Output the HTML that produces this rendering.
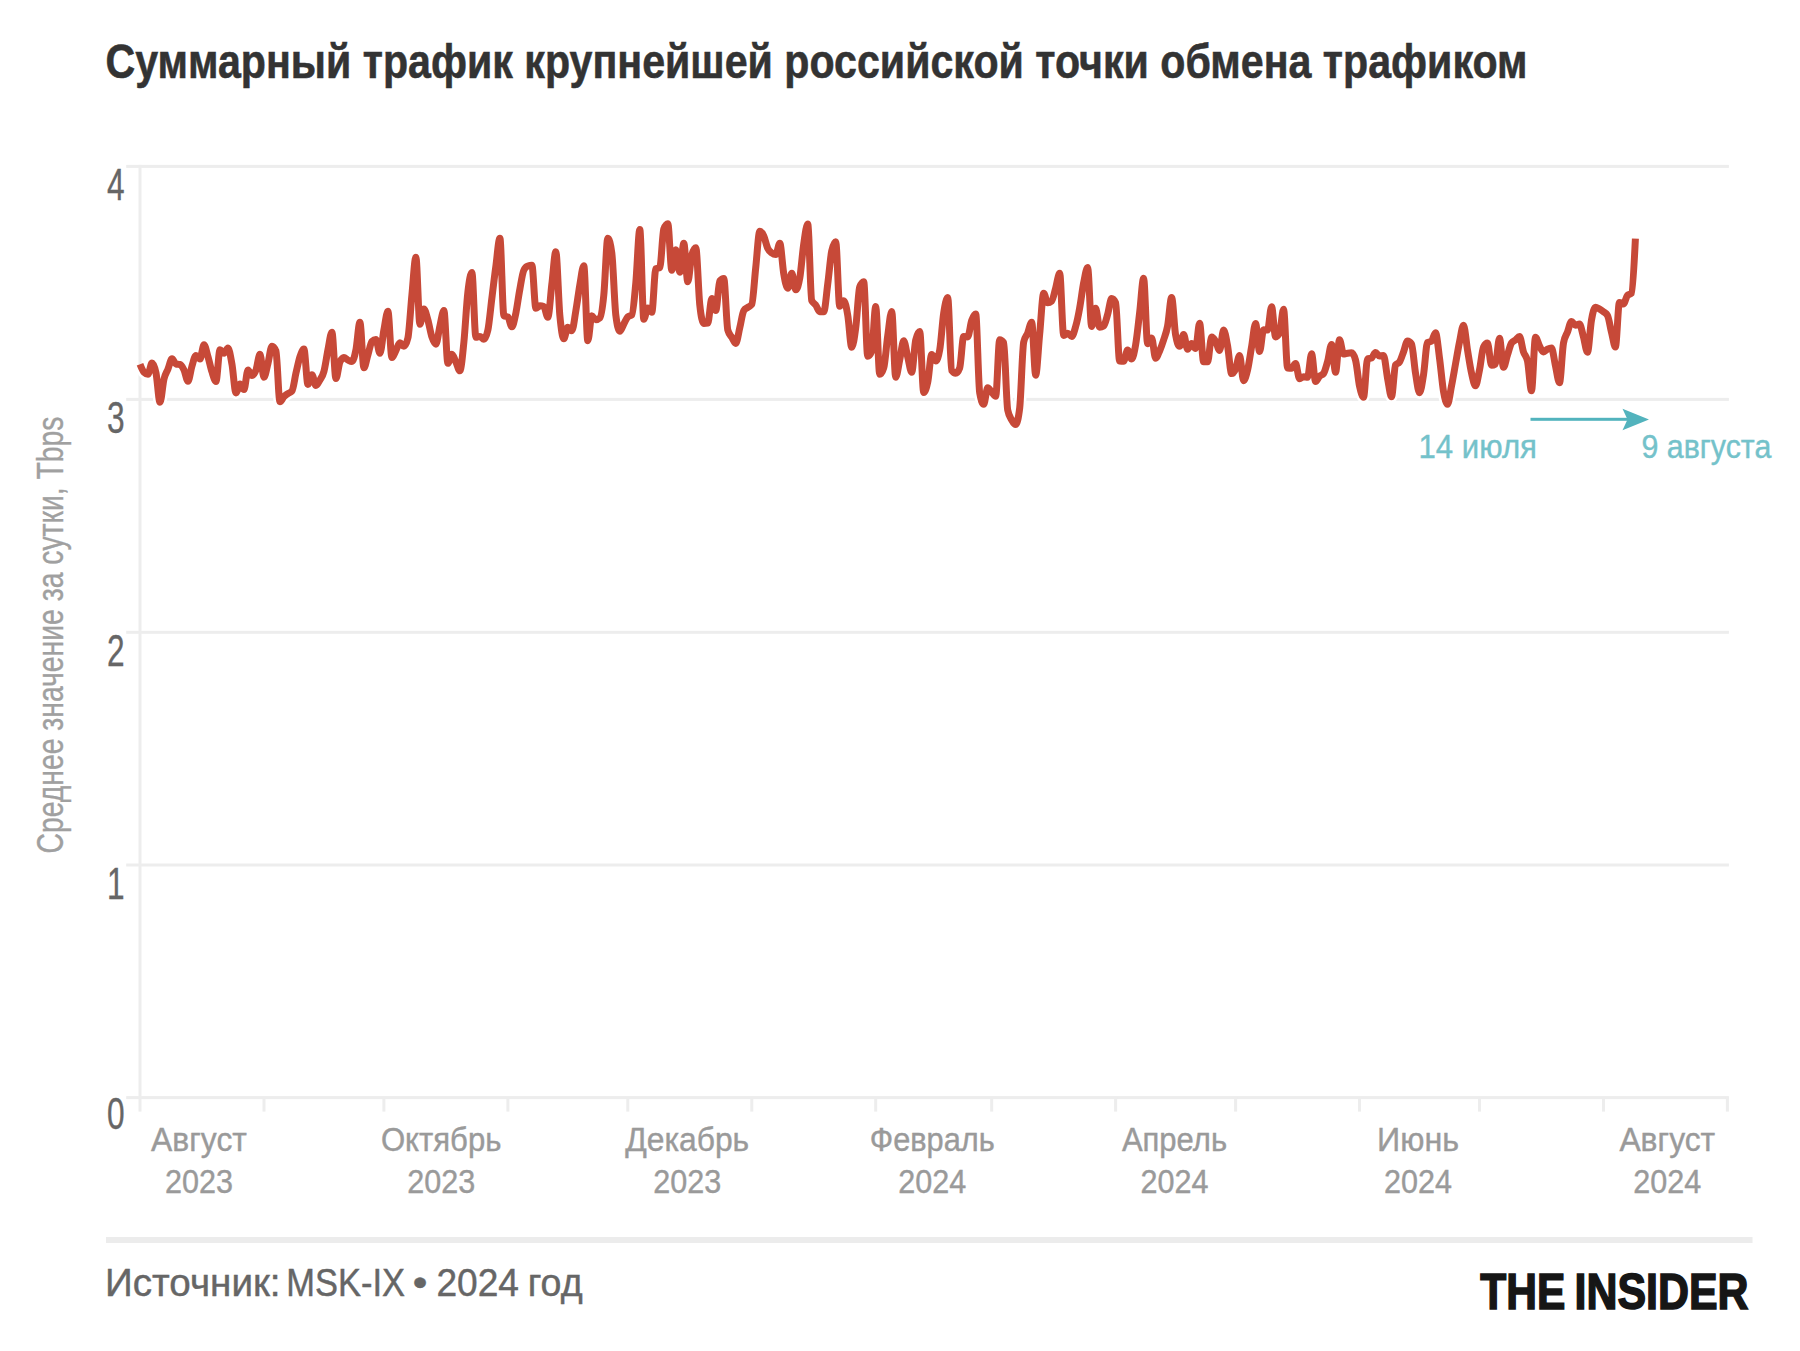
<!DOCTYPE html>
<html lang="ru"><head><meta charset="utf-8"><title>Суммарный трафик крупнейшей российской точки обмена трафиком</title>
<style>html,body{margin:0;padding:0;background:#fff}body{width:1800px;height:1351px;overflow:hidden}svg{display:block}text{font-family:"Liberation Sans", sans-serif}</style>
</head><body>
<svg width="1800" height="1351" viewBox="0 0 1800 1351">
<rect width="1800" height="1351" fill="#ffffff"/>
<text x="105.5" y="78" font-size="49" font-weight="700" fill="#333333" stroke="#333333" stroke-width="0.6" textLength="1422" lengthAdjust="spacingAndGlyphs">Суммарный трафик крупнейшей российской точки обмена трафиком</text>
<rect x="126.2" y="1096.1" width="1602.7" height="3" fill="#ededed"/>
<rect x="126.2" y="863.5" width="1602.7" height="3" fill="#ededed"/>
<rect x="126.2" y="630.8" width="1602.7" height="3" fill="#ededed"/>
<rect x="126.2" y="397.9" width="1602.7" height="3" fill="#ededed"/>
<rect x="126.2" y="164.9" width="1602.7" height="3" fill="#ededed"/>
<rect x="138.5" y="164.9" width="3" height="946.7" fill="#ededed"/>
<rect x="262.5" y="1097" width="3" height="14.6" fill="#ededed"/>
<rect x="382.4" y="1097" width="3" height="14.6" fill="#ededed"/>
<rect x="506.4" y="1097" width="3" height="14.6" fill="#ededed"/>
<rect x="626.3" y="1097" width="3" height="14.6" fill="#ededed"/>
<rect x="750.3" y="1097" width="3" height="14.6" fill="#ededed"/>
<rect x="874.2" y="1097" width="3" height="14.6" fill="#ededed"/>
<rect x="990.2" y="1097" width="3" height="14.6" fill="#ededed"/>
<rect x="1114.1" y="1097" width="3" height="14.6" fill="#ededed"/>
<rect x="1234.1" y="1097" width="3" height="14.6" fill="#ededed"/>
<rect x="1358.0" y="1097" width="3" height="14.6" fill="#ededed"/>
<rect x="1478.0" y="1097" width="3" height="14.6" fill="#ededed"/>
<rect x="1602.0" y="1097" width="3" height="14.6" fill="#ededed"/>
<rect x="1725.9" y="1097" width="3" height="14.6" fill="#ededed"/>
<text x="107" y="1128.6" font-size="43.5" fill="#666666" stroke="#666666" stroke-width="0.35" textLength="17.6" lengthAdjust="spacingAndGlyphs">0</text>
<text x="107" y="898.6" font-size="43.5" fill="#666666" stroke="#666666" stroke-width="0.35" textLength="17.6" lengthAdjust="spacingAndGlyphs">1</text>
<text x="107" y="665.9" font-size="43.5" fill="#666666" stroke="#666666" stroke-width="0.35" textLength="17.6" lengthAdjust="spacingAndGlyphs">2</text>
<text x="107" y="433.0" font-size="43.5" fill="#666666" stroke="#666666" stroke-width="0.35" textLength="17.6" lengthAdjust="spacingAndGlyphs">3</text>
<text x="107" y="200.0" font-size="43.5" fill="#666666" stroke="#666666" stroke-width="0.35" textLength="17.6" lengthAdjust="spacingAndGlyphs">4</text>
<text transform="translate(62.8,853.5) rotate(-90)" font-size="36" fill="#a0a0a0" stroke="#a0a0a0" stroke-width="0.35" textLength="437" lengthAdjust="spacingAndGlyphs">Среднее значение за сутки, Tbps</text>
<text x="151.1" y="1151.3" font-size="33" fill="#9a9a9a" stroke="#9a9a9a" stroke-width="0.4" textLength="95.8" lengthAdjust="spacingAndGlyphs">Август</text>
<text x="165.0" y="1192.5" font-size="33" fill="#9a9a9a" stroke="#9a9a9a" stroke-width="0.4" textLength="68.0" lengthAdjust="spacingAndGlyphs">2023</text>
<text x="380.9" y="1151.3" font-size="33" fill="#9a9a9a" stroke="#9a9a9a" stroke-width="0.4" textLength="120.5" lengthAdjust="spacingAndGlyphs">Октябрь</text>
<text x="407.2" y="1192.5" font-size="33" fill="#9a9a9a" stroke="#9a9a9a" stroke-width="0.4" textLength="68.0" lengthAdjust="spacingAndGlyphs">2023</text>
<text x="625.2" y="1151.3" font-size="33" fill="#9a9a9a" stroke="#9a9a9a" stroke-width="0.4" textLength="124.0" lengthAdjust="spacingAndGlyphs">Декабрь</text>
<text x="653.2" y="1192.5" font-size="33" fill="#9a9a9a" stroke="#9a9a9a" stroke-width="0.4" textLength="68.0" lengthAdjust="spacingAndGlyphs">2023</text>
<text x="869.8" y="1151.3" font-size="33" fill="#9a9a9a" stroke="#9a9a9a" stroke-width="0.4" textLength="125.0" lengthAdjust="spacingAndGlyphs">Февраль</text>
<text x="898.3" y="1192.5" font-size="33" fill="#9a9a9a" stroke="#9a9a9a" stroke-width="0.4" textLength="68.0" lengthAdjust="spacingAndGlyphs">2024</text>
<text x="1121.9" y="1151.3" font-size="33" fill="#9a9a9a" stroke="#9a9a9a" stroke-width="0.4" textLength="105.2" lengthAdjust="spacingAndGlyphs">Апрель</text>
<text x="1140.5" y="1192.5" font-size="33" fill="#9a9a9a" stroke="#9a9a9a" stroke-width="0.4" textLength="68.0" lengthAdjust="spacingAndGlyphs">2024</text>
<text x="1377.1" y="1151.3" font-size="33" fill="#9a9a9a" stroke="#9a9a9a" stroke-width="0.4" textLength="82.0" lengthAdjust="spacingAndGlyphs">Июнь</text>
<text x="1384.1" y="1192.5" font-size="33" fill="#9a9a9a" stroke="#9a9a9a" stroke-width="0.4" textLength="68.0" lengthAdjust="spacingAndGlyphs">2024</text>
<text x="1619.4" y="1151.3" font-size="33" fill="#9a9a9a" stroke="#9a9a9a" stroke-width="0.4" textLength="95.8" lengthAdjust="spacingAndGlyphs">Август</text>
<text x="1633.3" y="1192.5" font-size="33" fill="#9a9a9a" stroke="#9a9a9a" stroke-width="0.4" textLength="68.0" lengthAdjust="spacingAndGlyphs">2024</text>
<path fill="none" stroke="#ffffff" stroke-width="12" stroke-linejoin="round" stroke-linecap="butt" d="M140.0,364.3C141.33,367.63 142.67,370.97 144.0,372.3C145.33,373.63 146.66,374.30 148.0,374.3C149.33,374.30 150.66,363.00 152.0,363.0C153.33,363.00 154.66,366.45 156.0,373.0C157.33,379.55 158.66,402.30 160.0,402.3C161.33,402.30 162.66,384.55 164.0,379.0C165.32,373.45 166.66,372.37 168.0,369.0C169.32,365.63 170.66,358.80 172.0,358.8C173.32,358.80 174.65,363.67 176.0,364.0C177.32,364.33 178.65,364.17 180.0,364.5C181.32,364.83 182.65,367.22 184.0,370.0C185.32,372.78 186.65,381.20 188.0,381.2C189.31,381.20 190.65,370.28 192.0,366.0C193.31,361.72 194.65,355.50 196.0,355.5C197.31,355.50 198.64,359.00 200.0,359.0C201.31,359.00 202.64,344.70 204.0,344.7C205.31,344.70 206.64,352.15 208.0,356.7C209.31,361.25 210.64,367.88 212.0,372.0C213.31,376.12 214.64,381.40 216.0,381.4C217.30,381.40 218.64,349.80 220.0,349.8C221.30,349.80 222.64,353.30 224.0,353.3C225.30,353.30 226.63,348.10 228.0,348.1C229.30,348.10 230.63,356.93 232.0,364.4C233.30,371.87 234.63,392.90 236.0,392.9C237.30,392.90 238.63,383.90 240.0,383.9C241.30,383.90 242.63,389.60 244.0,389.6C245.29,389.60 246.63,369.90 248.0,369.9C249.29,369.90 250.63,375.60 252.0,375.6C253.29,375.60 254.62,373.55 256.0,370.0C257.29,366.45 258.62,354.30 260.0,354.3C261.29,354.30 262.62,377.30 264.0,377.3C265.29,377.30 266.62,368.48 268.0,363.3C269.28,358.12 270.62,346.20 272.0,346.2C273.28,346.20 274.62,347.80 275.9,351.0C277.28,354.20 278.61,401.80 279.9,401.8C281.28,401.80 282.61,398.07 283.9,396.7C285.28,395.33 286.61,394.53 287.9,393.6C289.28,392.67 290.61,392.77 291.9,391.1C293.28,389.43 294.61,379.03 295.9,373.3C297.27,367.57 298.61,360.73 299.9,356.7C301.27,352.67 302.61,349.10 303.9,349.1C305.27,349.10 306.60,384.40 307.9,384.4C309.27,384.40 310.60,374.70 311.9,374.7C313.27,374.70 314.60,385.60 315.9,385.6C317.27,385.60 318.60,382.35 319.9,380.0C321.27,377.65 322.60,376.50 323.9,371.5C325.26,366.50 326.60,356.55 327.9,350.0C329.26,343.45 330.60,332.20 331.9,332.2C333.26,332.20 334.59,378.60 335.9,378.6C337.26,378.60 338.59,365.00 339.9,362.0C341.26,359.00 342.59,357.50 343.9,357.5C345.26,357.50 346.59,359.33 347.9,360.0C349.25,360.67 350.59,361.50 351.9,361.5C353.25,361.50 354.59,356.55 355.9,350.0C357.25,343.45 358.58,322.20 359.9,322.2C361.25,322.20 362.58,367.80 363.9,367.8C365.25,367.80 366.58,359.38 367.9,355.0C369.25,350.62 370.58,342.83 371.9,341.5C373.25,340.17 374.58,339.50 375.9,339.5C377.24,339.50 378.58,353.30 379.9,353.3C381.24,353.30 382.58,337.02 383.9,330.0C385.24,322.98 386.57,311.20 387.9,311.2C389.24,311.20 390.57,357.60 391.9,357.6C393.24,357.60 394.57,352.97 395.9,350.5C397.24,348.03 398.57,342.80 399.9,342.8C401.24,342.80 402.57,346.30 403.9,346.3C405.23,346.30 406.57,343.53 407.9,338.0C409.23,332.47 410.57,308.47 411.9,295.0C413.23,281.53 414.56,257.20 415.9,257.2C417.23,257.20 418.56,324.30 419.9,324.3C421.23,324.30 422.56,309.00 423.9,309.0C425.23,309.00 426.56,315.33 427.9,320.0C429.22,324.67 430.56,332.95 431.9,337.0C433.22,341.05 434.56,344.30 435.9,344.3C437.22,344.30 438.55,331.63 439.9,326.0C441.22,320.37 442.55,310.50 443.9,310.5C445.22,310.50 446.55,363.30 447.9,363.3C449.22,363.30 450.55,354.30 451.9,354.3C453.22,354.30 454.55,359.25 455.9,362.0C457.21,364.75 458.55,370.80 459.9,370.8C461.21,370.80 462.55,355.13 463.9,342.0C465.21,328.87 466.54,303.58 467.9,292.0C469.21,280.42 470.54,272.50 471.9,272.5C473.21,272.50 474.54,337.30 475.9,337.3C477.21,337.30 478.54,336.50 479.9,336.5C481.21,336.50 482.54,339.30 483.9,339.3C485.20,339.30 486.54,336.20 487.9,330.0C489.20,323.80 490.54,308.67 491.9,298.0C493.20,287.33 494.53,275.97 495.9,266.0C497.20,256.03 498.53,238.20 499.9,238.2C501.20,238.20 502.53,315.00 503.9,315.8C505.20,316.60 506.53,316.20 507.9,317.0C509.19,317.80 510.53,326.80 511.9,326.8C513.19,326.80 514.53,319.30 515.9,313.0C517.19,306.70 518.52,296.17 519.9,289.0C521.19,281.83 522.52,272.67 523.9,270.0C525.19,267.33 526.52,266.47 527.9,266.0C529.19,265.53 530.52,265.30 531.9,265.3C533.19,265.30 534.52,308.30 535.9,308.3C537.18,308.30 538.52,305.80 539.9,305.8C541.18,305.80 542.52,306.03 543.8,306.5C545.18,306.97 546.51,317.30 547.8,317.3C549.18,317.30 550.51,295.43 551.8,284.5C553.18,273.57 554.51,251.70 555.8,251.7C557.18,251.70 558.51,300.48 559.8,315.0C561.18,329.52 562.51,338.80 563.8,338.8C565.17,338.80 566.51,327.30 567.8,327.3C569.17,327.30 570.51,330.80 571.8,330.8C573.17,330.80 574.50,318.63 575.8,311.0C577.17,303.37 578.50,292.55 579.8,285.0C581.17,277.45 582.50,265.70 583.8,265.7C585.17,265.70 586.50,340.80 587.8,340.8C589.16,340.80 590.50,315.80 591.8,315.8C593.16,315.80 594.50,319.80 595.8,319.8C597.16,319.80 598.49,319.20 599.8,318.0C601.16,316.80 602.49,308.30 603.8,295.0C605.16,281.70 606.49,238.20 607.8,238.2C609.16,238.20 610.49,243.13 611.8,253.0C613.16,262.87 614.49,304.13 615.8,315.0C617.15,325.87 618.49,331.30 619.8,331.3C621.15,331.30 622.49,326.42 623.8,324.0C625.15,321.58 626.48,318.00 627.8,316.8C629.15,315.60 630.48,316.20 631.8,315.0C633.15,313.80 634.48,297.25 635.8,283.0C637.15,268.75 638.48,229.50 639.8,229.5C641.15,229.50 642.48,319.30 643.8,319.3C645.14,319.30 646.48,308.00 647.8,308.0C649.14,308.00 650.48,312.30 651.8,312.3C653.14,312.30 654.47,269.67 655.8,268.8C657.14,267.93 658.47,268.37 659.8,267.5C661.14,266.63 662.47,232.53 663.8,229.0C665.14,225.47 666.47,223.70 667.8,223.7C669.13,223.70 670.47,270.30 671.8,270.3C673.13,270.30 674.47,249.70 675.8,249.7C677.13,249.70 678.46,272.30 679.8,272.3C681.13,272.30 682.46,243.20 683.8,243.2C685.13,243.20 686.46,281.80 687.8,281.8C689.13,281.80 690.46,259.87 691.8,255.0C693.13,250.13 694.46,247.70 695.8,247.7C697.12,247.70 698.46,292.67 699.8,305.0C701.12,317.33 702.46,323.50 703.8,323.5C705.12,323.50 706.45,323.37 707.8,323.1C709.12,322.83 710.45,298.60 711.8,298.6C713.12,298.60 714.45,310.50 715.8,310.5C717.12,310.50 718.45,282.73 719.8,281.0C721.12,279.27 722.45,278.40 723.8,278.4C725.11,278.40 726.45,325.13 727.8,330.0C729.11,334.87 730.45,335.07 731.8,337.3C733.11,339.53 734.44,343.40 735.8,343.4C737.11,343.40 738.44,333.17 739.8,327.7C741.11,322.23 742.44,312.73 743.8,310.6C745.11,308.47 746.44,308.43 747.8,307.4C749.10,306.37 750.44,306.40 751.8,304.4C753.10,302.40 754.44,279.20 755.8,267.0C757.10,254.80 758.43,231.20 759.8,231.2C761.10,231.20 762.43,233.12 763.8,236.0C765.10,238.88 766.43,245.67 767.8,248.5C769.10,251.33 770.43,252.00 771.8,253.0C773.10,254.00 774.43,254.50 775.8,254.5C777.09,254.50 778.43,243.20 779.8,243.2C781.09,243.20 782.43,266.48 783.8,274.0C785.09,281.52 786.42,288.30 787.8,288.3C789.09,288.30 790.42,273.30 791.8,273.3C793.09,273.30 794.42,289.80 795.8,289.8C797.09,289.80 798.42,285.72 799.8,278.0C801.09,270.28 802.42,252.50 803.8,243.5C805.08,234.50 806.42,224.00 807.7,224.0C809.08,224.00 810.42,297.50 811.7,300.5C813.08,303.50 814.41,303.12 815.7,305.0C817.08,306.88 818.41,311.80 819.7,311.8C821.08,311.80 822.41,311.80 823.7,311.8C825.08,311.80 826.41,294.33 827.7,284.2C829.07,274.07 830.41,257.20 831.7,251.0C833.07,244.80 834.41,241.70 835.7,241.7C837.07,241.70 838.40,306.30 839.7,306.3C841.07,306.30 842.40,300.80 843.7,300.8C845.07,300.80 846.40,307.25 847.7,315.0C849.07,322.75 850.40,347.30 851.7,347.3C853.07,347.30 854.40,338.05 855.7,328.0C857.06,317.95 858.40,290.53 859.7,287.0C861.06,283.47 862.40,281.70 863.7,281.7C865.06,281.70 866.39,356.30 867.7,356.3C869.06,356.30 870.39,354.63 871.7,351.3C873.06,347.97 874.39,306.50 875.7,306.5C877.06,306.50 878.39,374.30 879.7,374.3C881.06,374.30 882.39,372.20 883.7,368.0C885.05,363.80 886.39,345.42 887.7,336.0C889.05,326.58 890.39,311.50 891.7,311.5C893.05,311.50 894.38,377.30 895.7,377.3C897.05,377.30 898.38,366.10 899.7,360.0C901.05,353.90 902.38,340.70 903.7,340.7C905.05,340.70 906.38,351.73 907.7,357.0C909.04,362.27 910.38,372.30 911.7,372.3C913.04,372.30 914.38,345.73 915.7,340.0C917.04,334.27 918.37,331.40 919.7,331.4C921.04,331.40 922.37,392.60 923.7,392.6C925.04,392.60 926.37,388.75 927.7,382.4C929.04,376.05 930.37,354.50 931.7,354.5C933.04,354.50 934.37,361.00 935.7,361.0C937.03,361.00 938.37,357.33 939.7,350.0C941.03,342.67 942.37,321.75 943.7,313.0C945.03,304.25 946.36,297.50 947.7,297.5C949.03,297.50 950.36,368.63 951.7,370.5C953.03,372.37 954.36,373.30 955.7,373.3C957.03,373.30 958.36,371.53 959.7,368.0C961.03,364.47 962.36,336.40 963.7,336.4C965.02,336.40 966.36,337.00 967.7,337.0C969.02,337.00 970.36,324.33 971.7,320.5C973.02,316.67 974.35,314.00 975.7,314.0C977.02,314.00 978.35,385.47 979.7,393.0C981.02,400.53 982.35,404.30 983.7,404.3C985.02,404.30 986.35,387.80 987.7,387.8C989.01,387.80 990.35,390.58 991.7,392.0C993.01,393.42 994.35,396.30 995.7,396.3C997.01,396.30 998.34,339.70 999.7,339.7C1001.01,339.70 1002.34,340.70 1003.7,342.7C1005.01,344.70 1006.34,403.33 1007.7,410.0C1009.01,416.67 1010.34,417.57 1011.7,420.0C1013.01,422.43 1014.34,424.60 1015.7,424.6C1017.00,424.60 1018.34,419.07 1019.7,408.0C1021.00,396.93 1022.34,348.00 1023.7,342.0C1025.00,336.00 1026.33,336.30 1027.7,333.0C1029.00,329.70 1030.33,322.20 1031.7,322.2C1033.00,322.20 1034.33,375.30 1035.7,375.3C1037.00,375.30 1038.33,347.67 1039.7,334.0C1041.00,320.33 1042.33,293.30 1043.7,293.3C1044.99,293.30 1046.33,302.70 1047.7,302.7C1048.99,302.70 1050.33,302.13 1051.7,301.0C1052.99,299.87 1054.32,292.62 1055.7,288.0C1056.99,283.38 1058.32,273.30 1059.7,273.3C1060.99,273.30 1062.32,335.40 1063.7,335.4C1064.99,335.40 1066.32,333.30 1067.7,333.3C1068.98,333.30 1070.32,336.40 1071.7,336.4C1072.98,336.40 1074.32,331.38 1075.6,326.7C1076.98,322.02 1078.31,315.58 1079.6,308.3C1080.98,301.02 1082.31,289.78 1083.6,283.0C1084.98,276.22 1086.31,267.60 1087.6,267.6C1088.98,267.60 1090.31,326.40 1091.6,326.4C1092.98,326.40 1094.31,308.30 1095.6,308.3C1096.97,308.30 1098.31,327.20 1099.6,327.2C1100.97,327.20 1102.31,326.80 1103.6,326.0C1104.97,325.20 1106.30,319.07 1107.6,314.5C1108.97,309.93 1110.30,298.60 1111.6,298.6C1112.97,298.60 1114.30,300.00 1115.6,302.8C1116.97,305.60 1118.30,360.80 1119.6,361.0C1120.97,361.20 1122.30,361.30 1123.6,361.3C1124.96,361.30 1126.30,350.00 1127.6,350.0C1128.96,350.00 1130.30,359.00 1131.6,359.0C1132.96,359.00 1134.29,352.67 1135.6,345.0C1136.96,337.33 1138.29,324.13 1139.6,313.0C1140.96,301.87 1142.29,278.20 1143.6,278.2C1144.96,278.20 1146.29,343.80 1147.6,343.8C1148.95,343.80 1150.29,338.00 1151.6,338.0C1152.95,338.00 1154.29,358.30 1155.6,358.3C1156.95,358.30 1158.28,354.05 1159.6,351.0C1160.95,347.95 1162.28,344.17 1163.6,340.0C1164.95,335.83 1166.28,333.10 1167.6,326.0C1168.95,318.90 1170.28,297.40 1171.6,297.4C1172.95,297.40 1174.28,327.47 1175.6,335.0C1176.94,342.53 1178.28,346.30 1179.6,346.3C1180.94,346.30 1182.28,334.50 1183.6,334.5C1184.94,334.50 1186.27,349.30 1187.6,349.3C1188.94,349.30 1190.27,343.50 1191.6,343.5C1192.94,343.50 1194.27,348.50 1195.6,348.5C1196.94,348.50 1198.27,323.20 1199.6,323.2C1200.94,323.20 1202.27,361.80 1203.6,361.8C1204.93,361.80 1206.27,361.80 1207.6,361.8C1208.93,361.80 1210.27,337.00 1211.6,337.0C1212.93,337.00 1214.26,338.97 1215.6,341.2C1216.93,343.43 1218.26,350.40 1219.6,350.4C1220.93,350.40 1222.26,330.10 1223.6,330.1C1224.93,330.10 1226.26,338.75 1227.6,346.0C1228.92,353.25 1230.26,373.60 1231.6,373.6C1232.92,373.60 1234.26,372.02 1235.6,369.0C1236.92,365.98 1238.25,355.50 1239.6,355.5C1240.92,355.50 1242.25,380.70 1243.6,380.7C1244.92,380.70 1246.25,375.67 1247.6,370.0C1248.92,364.33 1250.25,354.43 1251.6,346.7C1252.92,338.97 1254.25,323.60 1255.6,323.6C1256.91,323.60 1258.25,351.40 1259.6,351.4C1260.91,351.40 1262.25,329.80 1263.6,329.8C1264.91,329.80 1266.24,330.00 1267.6,330.0C1268.91,330.00 1270.24,306.70 1271.6,306.7C1272.91,306.70 1274.24,336.90 1275.6,336.9C1276.91,336.90 1278.24,335.60 1279.6,333.0C1280.91,330.40 1282.24,309.30 1283.6,309.3C1284.90,309.30 1286.24,367.80 1287.6,368.0C1288.90,368.20 1290.24,368.30 1291.6,368.3C1292.90,368.30 1294.23,363.60 1295.6,363.6C1296.90,363.60 1298.23,378.80 1299.6,378.8C1300.90,378.80 1302.23,376.80 1303.6,376.8C1304.90,376.80 1306.23,377.20 1307.6,377.2C1308.89,377.20 1310.23,353.80 1311.6,353.8C1312.89,353.80 1314.23,381.50 1315.6,381.5C1316.89,381.50 1318.22,377.53 1319.6,376.2C1320.89,374.87 1322.22,375.30 1323.6,373.5C1324.89,371.70 1326.22,366.33 1327.6,361.5C1328.89,356.67 1330.22,344.50 1331.6,344.5C1332.89,344.50 1334.22,372.30 1335.6,372.3C1336.88,372.30 1338.22,339.70 1339.5,339.7C1340.88,339.70 1342.22,354.00 1343.5,354.0C1344.88,354.00 1346.21,353.40 1347.5,353.2C1348.88,353.00 1350.21,352.80 1351.5,352.8C1352.88,352.80 1354.21,355.20 1355.5,360.0C1356.88,364.80 1358.21,379.78 1359.5,386.0C1360.88,392.22 1362.21,397.30 1363.5,397.3C1364.87,397.30 1366.21,359.67 1367.5,359.0C1368.87,358.33 1370.21,358.67 1371.5,358.0C1372.87,357.33 1374.20,352.50 1375.5,352.5C1376.87,352.50 1378.20,356.00 1379.5,356.0C1380.87,356.00 1382.20,355.50 1383.5,355.5C1384.87,355.50 1386.20,371.12 1387.5,378.0C1388.86,384.88 1390.20,396.80 1391.5,396.8C1392.86,396.80 1394.20,367.00 1395.5,365.0C1396.86,363.00 1398.19,364.00 1399.5,362.0C1400.86,360.00 1402.19,355.50 1403.5,352.0C1404.86,348.50 1406.19,341.00 1407.5,341.0C1408.86,341.00 1410.19,342.00 1411.5,344.0C1412.86,346.00 1414.19,364.87 1415.5,373.0C1416.85,381.13 1418.19,392.80 1419.5,392.8C1420.85,392.80 1422.19,383.38 1423.5,375.0C1424.85,366.62 1426.18,343.37 1427.5,342.5C1428.85,341.63 1430.18,342.07 1431.5,341.2C1432.85,340.33 1434.18,332.70 1435.5,332.7C1436.85,332.70 1438.18,348.20 1439.5,358.0C1440.85,367.80 1442.18,383.78 1443.5,391.5C1444.84,399.22 1446.18,404.30 1447.5,404.3C1448.84,404.30 1450.18,392.72 1451.5,386.0C1452.84,379.28 1454.17,371.33 1455.5,364.0C1456.84,356.67 1458.17,348.47 1459.5,342.0C1460.84,335.53 1462.17,325.20 1463.5,325.2C1464.84,325.20 1466.17,342.03 1467.5,350.0C1468.83,357.97 1470.17,367.03 1471.5,373.0C1472.83,378.97 1474.17,385.80 1475.5,385.8C1476.83,385.80 1478.16,376.47 1479.5,370.0C1480.83,363.53 1482.16,349.67 1483.5,347.0C1484.83,344.33 1486.16,343.00 1487.5,343.0C1488.83,343.00 1490.16,365.30 1491.5,365.3C1492.83,365.30 1494.16,364.87 1495.5,364.0C1496.82,363.13 1498.16,338.20 1499.5,338.2C1500.82,338.20 1502.16,367.30 1503.5,367.3C1504.82,367.30 1506.15,359.05 1507.5,355.0C1508.82,350.95 1510.15,345.00 1511.5,343.0C1512.82,341.00 1514.15,341.08 1515.5,340.0C1516.82,338.92 1518.15,336.50 1519.5,336.5C1520.82,336.50 1522.15,347.92 1523.5,352.0C1524.81,356.08 1526.15,355.00 1527.5,361.0C1528.81,367.00 1530.15,390.80 1531.5,390.8C1532.81,390.80 1534.14,337.20 1535.5,337.2C1536.81,337.20 1538.14,343.53 1539.5,346.0C1540.81,348.47 1542.14,352.00 1543.5,352.0C1544.81,352.00 1546.14,349.87 1547.5,349.2C1548.80,348.53 1550.14,348.00 1551.5,348.0C1552.80,348.00 1554.14,360.20 1555.5,366.0C1556.80,371.80 1558.13,382.80 1559.5,382.8C1560.80,382.80 1562.13,350.33 1563.5,343.0C1564.80,335.67 1566.13,335.58 1567.5,332.0C1568.80,328.42 1570.13,321.50 1571.5,321.5C1572.80,321.50 1574.13,325.20 1575.5,325.2C1576.79,325.20 1578.13,324.00 1579.5,324.0C1580.79,324.00 1582.13,332.28 1583.5,337.0C1584.79,341.72 1586.12,352.30 1587.5,352.3C1588.79,352.30 1590.12,327.52 1591.5,320.0C1592.79,312.48 1594.12,307.20 1595.5,307.2C1596.79,307.20 1598.12,308.23 1599.5,309.0C1600.79,309.77 1602.12,310.75 1603.5,311.8C1604.78,312.85 1606.12,312.97 1607.4,315.3C1608.78,317.63 1610.12,326.72 1611.4,332.0C1612.78,337.28 1614.11,347.00 1615.4,347.0C1616.78,347.00 1618.11,302.40 1619.4,302.4C1620.78,302.40 1622.11,304.00 1623.4,304.0C1624.78,304.00 1626.11,296.97 1627.4,295.5C1628.77,294.03 1630.11,294.77 1631.4,293.3C1632.77,291.83 1634.11,265.22 1635.4,238.6"/>
<path fill="none" stroke="#c74938" stroke-width="7" stroke-linejoin="round" stroke-linecap="butt" d="M140.0,364.3C141.33,367.63 142.67,370.97 144.0,372.3C145.33,373.63 146.66,374.30 148.0,374.3C149.33,374.30 150.66,363.00 152.0,363.0C153.33,363.00 154.66,366.45 156.0,373.0C157.33,379.55 158.66,402.30 160.0,402.3C161.33,402.30 162.66,384.55 164.0,379.0C165.32,373.45 166.66,372.37 168.0,369.0C169.32,365.63 170.66,358.80 172.0,358.8C173.32,358.80 174.65,363.67 176.0,364.0C177.32,364.33 178.65,364.17 180.0,364.5C181.32,364.83 182.65,367.22 184.0,370.0C185.32,372.78 186.65,381.20 188.0,381.2C189.31,381.20 190.65,370.28 192.0,366.0C193.31,361.72 194.65,355.50 196.0,355.5C197.31,355.50 198.64,359.00 200.0,359.0C201.31,359.00 202.64,344.70 204.0,344.7C205.31,344.70 206.64,352.15 208.0,356.7C209.31,361.25 210.64,367.88 212.0,372.0C213.31,376.12 214.64,381.40 216.0,381.4C217.30,381.40 218.64,349.80 220.0,349.8C221.30,349.80 222.64,353.30 224.0,353.3C225.30,353.30 226.63,348.10 228.0,348.1C229.30,348.10 230.63,356.93 232.0,364.4C233.30,371.87 234.63,392.90 236.0,392.9C237.30,392.90 238.63,383.90 240.0,383.9C241.30,383.90 242.63,389.60 244.0,389.6C245.29,389.60 246.63,369.90 248.0,369.9C249.29,369.90 250.63,375.60 252.0,375.6C253.29,375.60 254.62,373.55 256.0,370.0C257.29,366.45 258.62,354.30 260.0,354.3C261.29,354.30 262.62,377.30 264.0,377.3C265.29,377.30 266.62,368.48 268.0,363.3C269.28,358.12 270.62,346.20 272.0,346.2C273.28,346.20 274.62,347.80 275.9,351.0C277.28,354.20 278.61,401.80 279.9,401.8C281.28,401.80 282.61,398.07 283.9,396.7C285.28,395.33 286.61,394.53 287.9,393.6C289.28,392.67 290.61,392.77 291.9,391.1C293.28,389.43 294.61,379.03 295.9,373.3C297.27,367.57 298.61,360.73 299.9,356.7C301.27,352.67 302.61,349.10 303.9,349.1C305.27,349.10 306.60,384.40 307.9,384.4C309.27,384.40 310.60,374.70 311.9,374.7C313.27,374.70 314.60,385.60 315.9,385.6C317.27,385.60 318.60,382.35 319.9,380.0C321.27,377.65 322.60,376.50 323.9,371.5C325.26,366.50 326.60,356.55 327.9,350.0C329.26,343.45 330.60,332.20 331.9,332.2C333.26,332.20 334.59,378.60 335.9,378.6C337.26,378.60 338.59,365.00 339.9,362.0C341.26,359.00 342.59,357.50 343.9,357.5C345.26,357.50 346.59,359.33 347.9,360.0C349.25,360.67 350.59,361.50 351.9,361.5C353.25,361.50 354.59,356.55 355.9,350.0C357.25,343.45 358.58,322.20 359.9,322.2C361.25,322.20 362.58,367.80 363.9,367.8C365.25,367.80 366.58,359.38 367.9,355.0C369.25,350.62 370.58,342.83 371.9,341.5C373.25,340.17 374.58,339.50 375.9,339.5C377.24,339.50 378.58,353.30 379.9,353.3C381.24,353.30 382.58,337.02 383.9,330.0C385.24,322.98 386.57,311.20 387.9,311.2C389.24,311.20 390.57,357.60 391.9,357.6C393.24,357.60 394.57,352.97 395.9,350.5C397.24,348.03 398.57,342.80 399.9,342.8C401.24,342.80 402.57,346.30 403.9,346.3C405.23,346.30 406.57,343.53 407.9,338.0C409.23,332.47 410.57,308.47 411.9,295.0C413.23,281.53 414.56,257.20 415.9,257.2C417.23,257.20 418.56,324.30 419.9,324.3C421.23,324.30 422.56,309.00 423.9,309.0C425.23,309.00 426.56,315.33 427.9,320.0C429.22,324.67 430.56,332.95 431.9,337.0C433.22,341.05 434.56,344.30 435.9,344.3C437.22,344.30 438.55,331.63 439.9,326.0C441.22,320.37 442.55,310.50 443.9,310.5C445.22,310.50 446.55,363.30 447.9,363.3C449.22,363.30 450.55,354.30 451.9,354.3C453.22,354.30 454.55,359.25 455.9,362.0C457.21,364.75 458.55,370.80 459.9,370.8C461.21,370.80 462.55,355.13 463.9,342.0C465.21,328.87 466.54,303.58 467.9,292.0C469.21,280.42 470.54,272.50 471.9,272.5C473.21,272.50 474.54,337.30 475.9,337.3C477.21,337.30 478.54,336.50 479.9,336.5C481.21,336.50 482.54,339.30 483.9,339.3C485.20,339.30 486.54,336.20 487.9,330.0C489.20,323.80 490.54,308.67 491.9,298.0C493.20,287.33 494.53,275.97 495.9,266.0C497.20,256.03 498.53,238.20 499.9,238.2C501.20,238.20 502.53,315.00 503.9,315.8C505.20,316.60 506.53,316.20 507.9,317.0C509.19,317.80 510.53,326.80 511.9,326.8C513.19,326.80 514.53,319.30 515.9,313.0C517.19,306.70 518.52,296.17 519.9,289.0C521.19,281.83 522.52,272.67 523.9,270.0C525.19,267.33 526.52,266.47 527.9,266.0C529.19,265.53 530.52,265.30 531.9,265.3C533.19,265.30 534.52,308.30 535.9,308.3C537.18,308.30 538.52,305.80 539.9,305.8C541.18,305.80 542.52,306.03 543.8,306.5C545.18,306.97 546.51,317.30 547.8,317.3C549.18,317.30 550.51,295.43 551.8,284.5C553.18,273.57 554.51,251.70 555.8,251.7C557.18,251.70 558.51,300.48 559.8,315.0C561.18,329.52 562.51,338.80 563.8,338.8C565.17,338.80 566.51,327.30 567.8,327.3C569.17,327.30 570.51,330.80 571.8,330.8C573.17,330.80 574.50,318.63 575.8,311.0C577.17,303.37 578.50,292.55 579.8,285.0C581.17,277.45 582.50,265.70 583.8,265.7C585.17,265.70 586.50,340.80 587.8,340.8C589.16,340.80 590.50,315.80 591.8,315.8C593.16,315.80 594.50,319.80 595.8,319.8C597.16,319.80 598.49,319.20 599.8,318.0C601.16,316.80 602.49,308.30 603.8,295.0C605.16,281.70 606.49,238.20 607.8,238.2C609.16,238.20 610.49,243.13 611.8,253.0C613.16,262.87 614.49,304.13 615.8,315.0C617.15,325.87 618.49,331.30 619.8,331.3C621.15,331.30 622.49,326.42 623.8,324.0C625.15,321.58 626.48,318.00 627.8,316.8C629.15,315.60 630.48,316.20 631.8,315.0C633.15,313.80 634.48,297.25 635.8,283.0C637.15,268.75 638.48,229.50 639.8,229.5C641.15,229.50 642.48,319.30 643.8,319.3C645.14,319.30 646.48,308.00 647.8,308.0C649.14,308.00 650.48,312.30 651.8,312.3C653.14,312.30 654.47,269.67 655.8,268.8C657.14,267.93 658.47,268.37 659.8,267.5C661.14,266.63 662.47,232.53 663.8,229.0C665.14,225.47 666.47,223.70 667.8,223.7C669.13,223.70 670.47,270.30 671.8,270.3C673.13,270.30 674.47,249.70 675.8,249.7C677.13,249.70 678.46,272.30 679.8,272.3C681.13,272.30 682.46,243.20 683.8,243.2C685.13,243.20 686.46,281.80 687.8,281.8C689.13,281.80 690.46,259.87 691.8,255.0C693.13,250.13 694.46,247.70 695.8,247.7C697.12,247.70 698.46,292.67 699.8,305.0C701.12,317.33 702.46,323.50 703.8,323.5C705.12,323.50 706.45,323.37 707.8,323.1C709.12,322.83 710.45,298.60 711.8,298.6C713.12,298.60 714.45,310.50 715.8,310.5C717.12,310.50 718.45,282.73 719.8,281.0C721.12,279.27 722.45,278.40 723.8,278.4C725.11,278.40 726.45,325.13 727.8,330.0C729.11,334.87 730.45,335.07 731.8,337.3C733.11,339.53 734.44,343.40 735.8,343.4C737.11,343.40 738.44,333.17 739.8,327.7C741.11,322.23 742.44,312.73 743.8,310.6C745.11,308.47 746.44,308.43 747.8,307.4C749.10,306.37 750.44,306.40 751.8,304.4C753.10,302.40 754.44,279.20 755.8,267.0C757.10,254.80 758.43,231.20 759.8,231.2C761.10,231.20 762.43,233.12 763.8,236.0C765.10,238.88 766.43,245.67 767.8,248.5C769.10,251.33 770.43,252.00 771.8,253.0C773.10,254.00 774.43,254.50 775.8,254.5C777.09,254.50 778.43,243.20 779.8,243.2C781.09,243.20 782.43,266.48 783.8,274.0C785.09,281.52 786.42,288.30 787.8,288.3C789.09,288.30 790.42,273.30 791.8,273.3C793.09,273.30 794.42,289.80 795.8,289.8C797.09,289.80 798.42,285.72 799.8,278.0C801.09,270.28 802.42,252.50 803.8,243.5C805.08,234.50 806.42,224.00 807.7,224.0C809.08,224.00 810.42,297.50 811.7,300.5C813.08,303.50 814.41,303.12 815.7,305.0C817.08,306.88 818.41,311.80 819.7,311.8C821.08,311.80 822.41,311.80 823.7,311.8C825.08,311.80 826.41,294.33 827.7,284.2C829.07,274.07 830.41,257.20 831.7,251.0C833.07,244.80 834.41,241.70 835.7,241.7C837.07,241.70 838.40,306.30 839.7,306.3C841.07,306.30 842.40,300.80 843.7,300.8C845.07,300.80 846.40,307.25 847.7,315.0C849.07,322.75 850.40,347.30 851.7,347.3C853.07,347.30 854.40,338.05 855.7,328.0C857.06,317.95 858.40,290.53 859.7,287.0C861.06,283.47 862.40,281.70 863.7,281.7C865.06,281.70 866.39,356.30 867.7,356.3C869.06,356.30 870.39,354.63 871.7,351.3C873.06,347.97 874.39,306.50 875.7,306.5C877.06,306.50 878.39,374.30 879.7,374.3C881.06,374.30 882.39,372.20 883.7,368.0C885.05,363.80 886.39,345.42 887.7,336.0C889.05,326.58 890.39,311.50 891.7,311.5C893.05,311.50 894.38,377.30 895.7,377.3C897.05,377.30 898.38,366.10 899.7,360.0C901.05,353.90 902.38,340.70 903.7,340.7C905.05,340.70 906.38,351.73 907.7,357.0C909.04,362.27 910.38,372.30 911.7,372.3C913.04,372.30 914.38,345.73 915.7,340.0C917.04,334.27 918.37,331.40 919.7,331.4C921.04,331.40 922.37,392.60 923.7,392.6C925.04,392.60 926.37,388.75 927.7,382.4C929.04,376.05 930.37,354.50 931.7,354.5C933.04,354.50 934.37,361.00 935.7,361.0C937.03,361.00 938.37,357.33 939.7,350.0C941.03,342.67 942.37,321.75 943.7,313.0C945.03,304.25 946.36,297.50 947.7,297.5C949.03,297.50 950.36,368.63 951.7,370.5C953.03,372.37 954.36,373.30 955.7,373.3C957.03,373.30 958.36,371.53 959.7,368.0C961.03,364.47 962.36,336.40 963.7,336.4C965.02,336.40 966.36,337.00 967.7,337.0C969.02,337.00 970.36,324.33 971.7,320.5C973.02,316.67 974.35,314.00 975.7,314.0C977.02,314.00 978.35,385.47 979.7,393.0C981.02,400.53 982.35,404.30 983.7,404.3C985.02,404.30 986.35,387.80 987.7,387.8C989.01,387.80 990.35,390.58 991.7,392.0C993.01,393.42 994.35,396.30 995.7,396.3C997.01,396.30 998.34,339.70 999.7,339.7C1001.01,339.70 1002.34,340.70 1003.7,342.7C1005.01,344.70 1006.34,403.33 1007.7,410.0C1009.01,416.67 1010.34,417.57 1011.7,420.0C1013.01,422.43 1014.34,424.60 1015.7,424.6C1017.00,424.60 1018.34,419.07 1019.7,408.0C1021.00,396.93 1022.34,348.00 1023.7,342.0C1025.00,336.00 1026.33,336.30 1027.7,333.0C1029.00,329.70 1030.33,322.20 1031.7,322.2C1033.00,322.20 1034.33,375.30 1035.7,375.3C1037.00,375.30 1038.33,347.67 1039.7,334.0C1041.00,320.33 1042.33,293.30 1043.7,293.3C1044.99,293.30 1046.33,302.70 1047.7,302.7C1048.99,302.70 1050.33,302.13 1051.7,301.0C1052.99,299.87 1054.32,292.62 1055.7,288.0C1056.99,283.38 1058.32,273.30 1059.7,273.3C1060.99,273.30 1062.32,335.40 1063.7,335.4C1064.99,335.40 1066.32,333.30 1067.7,333.3C1068.98,333.30 1070.32,336.40 1071.7,336.4C1072.98,336.40 1074.32,331.38 1075.6,326.7C1076.98,322.02 1078.31,315.58 1079.6,308.3C1080.98,301.02 1082.31,289.78 1083.6,283.0C1084.98,276.22 1086.31,267.60 1087.6,267.6C1088.98,267.60 1090.31,326.40 1091.6,326.4C1092.98,326.40 1094.31,308.30 1095.6,308.3C1096.97,308.30 1098.31,327.20 1099.6,327.2C1100.97,327.20 1102.31,326.80 1103.6,326.0C1104.97,325.20 1106.30,319.07 1107.6,314.5C1108.97,309.93 1110.30,298.60 1111.6,298.6C1112.97,298.60 1114.30,300.00 1115.6,302.8C1116.97,305.60 1118.30,360.80 1119.6,361.0C1120.97,361.20 1122.30,361.30 1123.6,361.3C1124.96,361.30 1126.30,350.00 1127.6,350.0C1128.96,350.00 1130.30,359.00 1131.6,359.0C1132.96,359.00 1134.29,352.67 1135.6,345.0C1136.96,337.33 1138.29,324.13 1139.6,313.0C1140.96,301.87 1142.29,278.20 1143.6,278.2C1144.96,278.20 1146.29,343.80 1147.6,343.8C1148.95,343.80 1150.29,338.00 1151.6,338.0C1152.95,338.00 1154.29,358.30 1155.6,358.3C1156.95,358.30 1158.28,354.05 1159.6,351.0C1160.95,347.95 1162.28,344.17 1163.6,340.0C1164.95,335.83 1166.28,333.10 1167.6,326.0C1168.95,318.90 1170.28,297.40 1171.6,297.4C1172.95,297.40 1174.28,327.47 1175.6,335.0C1176.94,342.53 1178.28,346.30 1179.6,346.3C1180.94,346.30 1182.28,334.50 1183.6,334.5C1184.94,334.50 1186.27,349.30 1187.6,349.3C1188.94,349.30 1190.27,343.50 1191.6,343.5C1192.94,343.50 1194.27,348.50 1195.6,348.5C1196.94,348.50 1198.27,323.20 1199.6,323.2C1200.94,323.20 1202.27,361.80 1203.6,361.8C1204.93,361.80 1206.27,361.80 1207.6,361.8C1208.93,361.80 1210.27,337.00 1211.6,337.0C1212.93,337.00 1214.26,338.97 1215.6,341.2C1216.93,343.43 1218.26,350.40 1219.6,350.4C1220.93,350.40 1222.26,330.10 1223.6,330.1C1224.93,330.10 1226.26,338.75 1227.6,346.0C1228.92,353.25 1230.26,373.60 1231.6,373.6C1232.92,373.60 1234.26,372.02 1235.6,369.0C1236.92,365.98 1238.25,355.50 1239.6,355.5C1240.92,355.50 1242.25,380.70 1243.6,380.7C1244.92,380.70 1246.25,375.67 1247.6,370.0C1248.92,364.33 1250.25,354.43 1251.6,346.7C1252.92,338.97 1254.25,323.60 1255.6,323.6C1256.91,323.60 1258.25,351.40 1259.6,351.4C1260.91,351.40 1262.25,329.80 1263.6,329.8C1264.91,329.80 1266.24,330.00 1267.6,330.0C1268.91,330.00 1270.24,306.70 1271.6,306.7C1272.91,306.70 1274.24,336.90 1275.6,336.9C1276.91,336.90 1278.24,335.60 1279.6,333.0C1280.91,330.40 1282.24,309.30 1283.6,309.3C1284.90,309.30 1286.24,367.80 1287.6,368.0C1288.90,368.20 1290.24,368.30 1291.6,368.3C1292.90,368.30 1294.23,363.60 1295.6,363.6C1296.90,363.60 1298.23,378.80 1299.6,378.8C1300.90,378.80 1302.23,376.80 1303.6,376.8C1304.90,376.80 1306.23,377.20 1307.6,377.2C1308.89,377.20 1310.23,353.80 1311.6,353.8C1312.89,353.80 1314.23,381.50 1315.6,381.5C1316.89,381.50 1318.22,377.53 1319.6,376.2C1320.89,374.87 1322.22,375.30 1323.6,373.5C1324.89,371.70 1326.22,366.33 1327.6,361.5C1328.89,356.67 1330.22,344.50 1331.6,344.5C1332.89,344.50 1334.22,372.30 1335.6,372.3C1336.88,372.30 1338.22,339.70 1339.5,339.7C1340.88,339.70 1342.22,354.00 1343.5,354.0C1344.88,354.00 1346.21,353.40 1347.5,353.2C1348.88,353.00 1350.21,352.80 1351.5,352.8C1352.88,352.80 1354.21,355.20 1355.5,360.0C1356.88,364.80 1358.21,379.78 1359.5,386.0C1360.88,392.22 1362.21,397.30 1363.5,397.3C1364.87,397.30 1366.21,359.67 1367.5,359.0C1368.87,358.33 1370.21,358.67 1371.5,358.0C1372.87,357.33 1374.20,352.50 1375.5,352.5C1376.87,352.50 1378.20,356.00 1379.5,356.0C1380.87,356.00 1382.20,355.50 1383.5,355.5C1384.87,355.50 1386.20,371.12 1387.5,378.0C1388.86,384.88 1390.20,396.80 1391.5,396.8C1392.86,396.80 1394.20,367.00 1395.5,365.0C1396.86,363.00 1398.19,364.00 1399.5,362.0C1400.86,360.00 1402.19,355.50 1403.5,352.0C1404.86,348.50 1406.19,341.00 1407.5,341.0C1408.86,341.00 1410.19,342.00 1411.5,344.0C1412.86,346.00 1414.19,364.87 1415.5,373.0C1416.85,381.13 1418.19,392.80 1419.5,392.8C1420.85,392.80 1422.19,383.38 1423.5,375.0C1424.85,366.62 1426.18,343.37 1427.5,342.5C1428.85,341.63 1430.18,342.07 1431.5,341.2C1432.85,340.33 1434.18,332.70 1435.5,332.7C1436.85,332.70 1438.18,348.20 1439.5,358.0C1440.85,367.80 1442.18,383.78 1443.5,391.5C1444.84,399.22 1446.18,404.30 1447.5,404.3C1448.84,404.30 1450.18,392.72 1451.5,386.0C1452.84,379.28 1454.17,371.33 1455.5,364.0C1456.84,356.67 1458.17,348.47 1459.5,342.0C1460.84,335.53 1462.17,325.20 1463.5,325.2C1464.84,325.20 1466.17,342.03 1467.5,350.0C1468.83,357.97 1470.17,367.03 1471.5,373.0C1472.83,378.97 1474.17,385.80 1475.5,385.8C1476.83,385.80 1478.16,376.47 1479.5,370.0C1480.83,363.53 1482.16,349.67 1483.5,347.0C1484.83,344.33 1486.16,343.00 1487.5,343.0C1488.83,343.00 1490.16,365.30 1491.5,365.3C1492.83,365.30 1494.16,364.87 1495.5,364.0C1496.82,363.13 1498.16,338.20 1499.5,338.2C1500.82,338.20 1502.16,367.30 1503.5,367.3C1504.82,367.30 1506.15,359.05 1507.5,355.0C1508.82,350.95 1510.15,345.00 1511.5,343.0C1512.82,341.00 1514.15,341.08 1515.5,340.0C1516.82,338.92 1518.15,336.50 1519.5,336.5C1520.82,336.50 1522.15,347.92 1523.5,352.0C1524.81,356.08 1526.15,355.00 1527.5,361.0C1528.81,367.00 1530.15,390.80 1531.5,390.8C1532.81,390.80 1534.14,337.20 1535.5,337.2C1536.81,337.20 1538.14,343.53 1539.5,346.0C1540.81,348.47 1542.14,352.00 1543.5,352.0C1544.81,352.00 1546.14,349.87 1547.5,349.2C1548.80,348.53 1550.14,348.00 1551.5,348.0C1552.80,348.00 1554.14,360.20 1555.5,366.0C1556.80,371.80 1558.13,382.80 1559.5,382.8C1560.80,382.80 1562.13,350.33 1563.5,343.0C1564.80,335.67 1566.13,335.58 1567.5,332.0C1568.80,328.42 1570.13,321.50 1571.5,321.5C1572.80,321.50 1574.13,325.20 1575.5,325.2C1576.79,325.20 1578.13,324.00 1579.5,324.0C1580.79,324.00 1582.13,332.28 1583.5,337.0C1584.79,341.72 1586.12,352.30 1587.5,352.3C1588.79,352.30 1590.12,327.52 1591.5,320.0C1592.79,312.48 1594.12,307.20 1595.5,307.2C1596.79,307.20 1598.12,308.23 1599.5,309.0C1600.79,309.77 1602.12,310.75 1603.5,311.8C1604.78,312.85 1606.12,312.97 1607.4,315.3C1608.78,317.63 1610.12,326.72 1611.4,332.0C1612.78,337.28 1614.11,347.00 1615.4,347.0C1616.78,347.00 1618.11,302.40 1619.4,302.4C1620.78,302.40 1622.11,304.00 1623.4,304.0C1624.78,304.00 1626.11,296.97 1627.4,295.5C1628.77,294.03 1630.11,294.77 1631.4,293.3C1632.77,291.83 1634.11,265.22 1635.4,238.6"/>
<rect x="1530.5" y="417.8" width="100" height="3" fill="#52b3bd"/>
<path d="M1649 419.5 L1622.5 408.8 L1627.5 419.5 L1622.5 430.3 Z" fill="#52b3bd"/>
<text x="1418.5" y="457.8" font-size="33" fill="#74c2ca" stroke="#74c2ca" stroke-width="0.4" textLength="118.5" lengthAdjust="spacingAndGlyphs">14 июля</text>
<text x="1641.5" y="457.8" font-size="33" fill="#74c2ca" stroke="#74c2ca" stroke-width="0.4" textLength="129.8" lengthAdjust="spacingAndGlyphs">9 августа</text>
<rect x="106" y="1237" width="1646.5" height="6" fill="#ececec"/>
<text x="105.0" y="1296.3" font-size="39" fill="#666666" stroke="#666666" stroke-width="0.45" textLength="175.6" lengthAdjust="spacingAndGlyphs">Источник:</text>
<text x="286.3" y="1296.3" font-size="39" fill="#666666" stroke="#666666" stroke-width="0.45" textLength="118.8" lengthAdjust="spacingAndGlyphs">MSK-IX</text>
<text x="412.7" y="1296.3" font-size="39" fill="#666666" stroke="#666666" stroke-width="0.45" textLength="14.6" lengthAdjust="spacingAndGlyphs">•</text>
<text x="436.5" y="1296.3" font-size="39" fill="#666666" stroke="#666666" stroke-width="0.45" textLength="82.5" lengthAdjust="spacingAndGlyphs">2024</text>
<text x="527.7" y="1296.3" font-size="39" fill="#666666" stroke="#666666" stroke-width="0.45" textLength="54.9" lengthAdjust="spacingAndGlyphs">год</text>
<text x="1480.3" y="1308.6" font-size="50.5" font-weight="700" fill="#161616" stroke="#161616" stroke-width="1.6" stroke-linejoin="miter" lengthAdjust="spacingAndGlyphs" textLength="85">THE</text>
<text x="1574.6" y="1308.6" font-size="50.5" font-weight="700" fill="#161616" stroke="#161616" stroke-width="1.6" stroke-linejoin="miter" lengthAdjust="spacingAndGlyphs" textLength="174">INSIDER</text>
</svg>
</body></html>
